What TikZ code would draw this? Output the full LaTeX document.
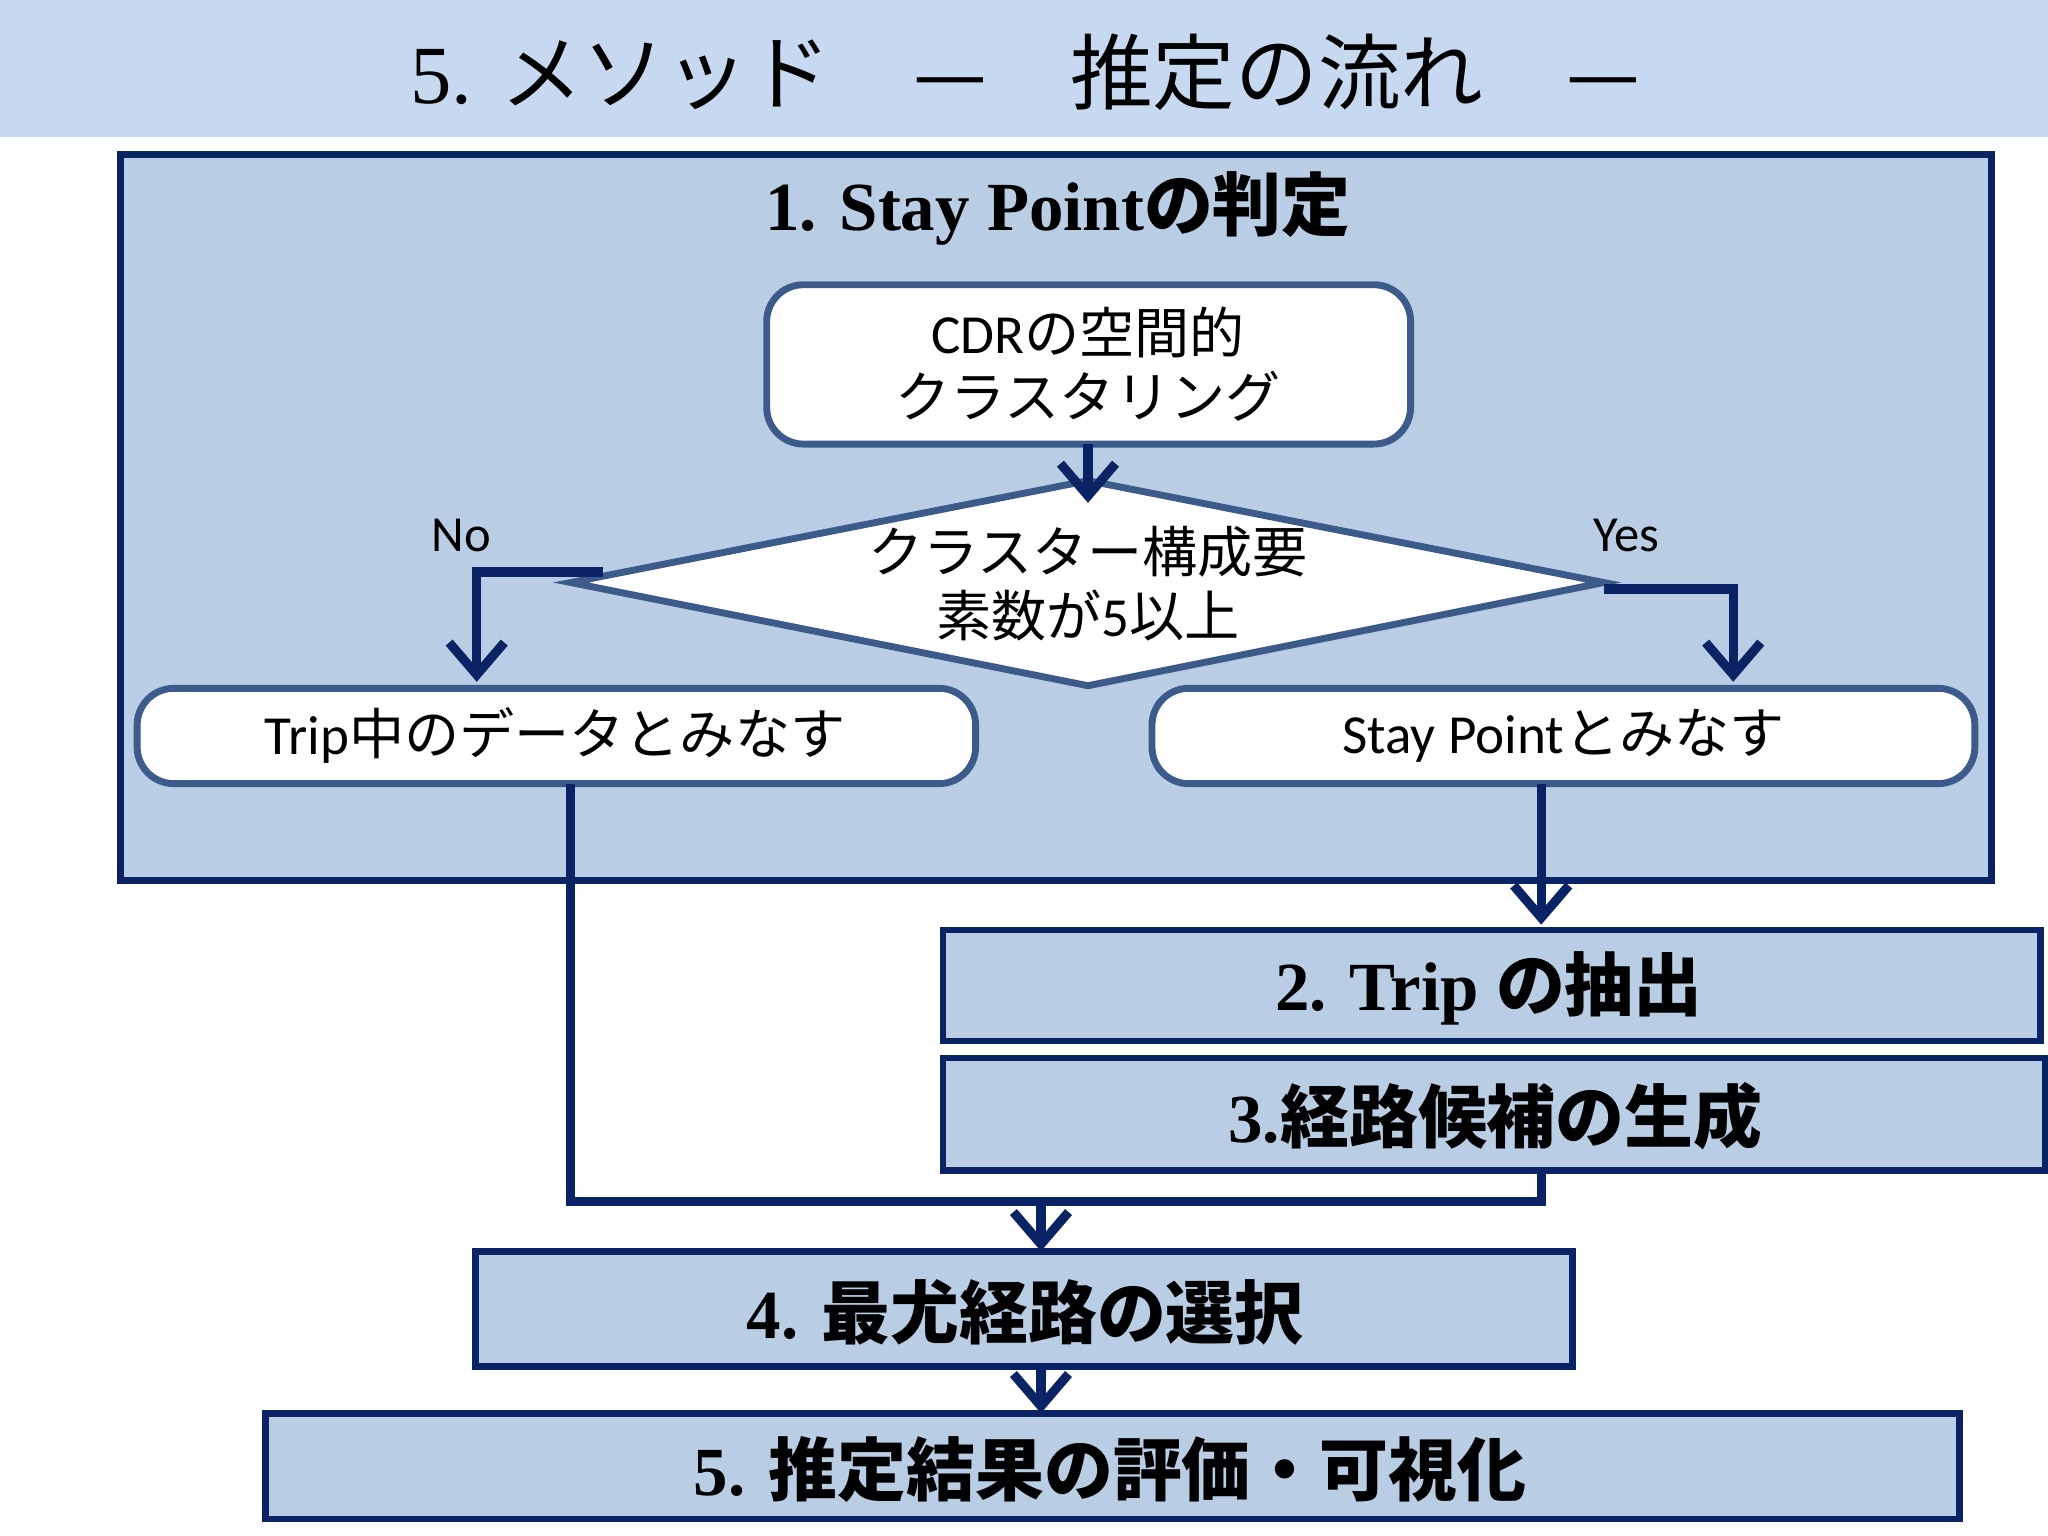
\documentclass[tikz,border=0pt]{standalone}
\usepackage{fontspec}
\setmainfont{Liberation Serif}
\newfontfamily\jp{Noto Sans CJK JP}
\newfontfamily\sans{Carlito}
\usetikzlibrary{arrows.meta}
\definecolor{band}{HTML}{C6D9F0}
\definecolor{panel}{HTML}{B9CDE5}
\definecolor{navy}{HTML}{0A2365}
\definecolor{frame}{HTML}{3C5A8A}
\begin{document}
\begin{tikzpicture}[x=0.01cm,y=-0.01cm,
  panelbox/.style={draw=navy, line width=1.5pt, fill=panel},
  whitebox/.style={draw=frame, line width=1.5pt, fill=white, rounded corners=8pt},
  flow/.style={draw=navy, line width=2pt},
  arr/.style={flow, -{Straight Barb[length=7pt,width=12pt,line width=2pt]}},
  title/.style={font=\fontsize{15}{18}\selectfont\bfseries, text=black},
  inner/.style={font=\fontsize{12}{15}\selectfont, align=center}
  ]
\useasboundingbox (0,0) rectangle (1568,1176);
% header
\fill[band] (0,0) rectangle (1568,105);
\node (head) at (785,55) {\fontsize{18}{20}\selectfont 5. {\jp メソッド\quad —\quad 推定の流れ\quad —}};

% box 1
\draw[panelbox] (92,118) rectangle (1525,674);
\node[title] (t1) at (810,160) {1. Stay Point{\jp\bfseries の判定}};
\draw[whitebox] (587,218) rectangle (1080,340);
\node[inner] (cdr) at (833,279) {{\sans CDR}{\jp の空間的}\\[-1pt]{\jp クラスタリング}};
\coordinate (cdrb) at (833,340);
\draw[draw=frame, line width=1.5pt, fill=white] (437,446) -- (833,368) -- (1228,446) -- (833,525) -- cycle;
\coordinate (dt) at (833,385);
\node[inner] (dia) at (833,447) {{\jp クラスター構成要}\\[-1pt]{\jp 素数が}{\sans 5}{\jp 以上}};
\node[font=\sans\fontsize{11}{13}\selectfont] (no) at (353,410) {No};
\node[font=\sans\fontsize{11}{13}\selectfont] (yes) at (1245,410) {Yes};

\draw[whitebox] (105,527) rectangle (747,600);
\node[inner] (trip) at (425,563) {{\sans Trip}{\jp 中のデータとみなす}};
\draw[whitebox] (882,527) rectangle (1512,600);
\node[inner] (stay) at (1197,563) {{\sans Stay Point}{\jp とみなす}};

\coordinate (nl) at (462,438);
\coordinate (nt) at (365,522);
\coordinate (yl) at (1228,451);
\coordinate (yt) at (1327,522);
\draw[arr] (cdrb) -- (dt);
\draw[arr] (nl) -| (nt);
\draw[arr] (yl) -| (yt);

% box 2, 3
\draw[panelbox] (722,712) rectangle (1562,797);
\node[title] (t2) at (1140,757) {2. Trip {\jp\bfseries の抽出}};
\draw[panelbox] (722,810) rectangle (1566,896);
\node[title] (t3) at (1145,855) {3.{\jp\bfseries 経路候補の生成}};

\coordinate (sb) at (1180,600);
\coordinate (b2t) at (1180,708);
\draw[arr] (sb) -- (b2t);
\coordinate (tb) at (437,600);
\coordinate (b3b) at (1180,896);
\coordinate (j) at (797,920);
\draw[flow] (tb) |- (j) -| (b3b);
\coordinate (b4t) at (797,958);
\draw[arr] (j) -- (b4t);

% box 4, 5
\draw[panelbox] (364,958) rectangle (1204,1046);
\node[title] (t4) at (785,1005) {4. {\jp\bfseries 最尤経路の選択}};
\draw[panelbox] (203,1082) rectangle (1500,1163);
\node[title] (t5) at (850,1125) {5. {\jp\bfseries 推定結果の評価・可視化}};
\coordinate (b4b) at (797,1046);
\coordinate (b5t) at (797,1082);
\draw[arr] (b4b) -- (b5t);
\end{tikzpicture}
\end{document}
